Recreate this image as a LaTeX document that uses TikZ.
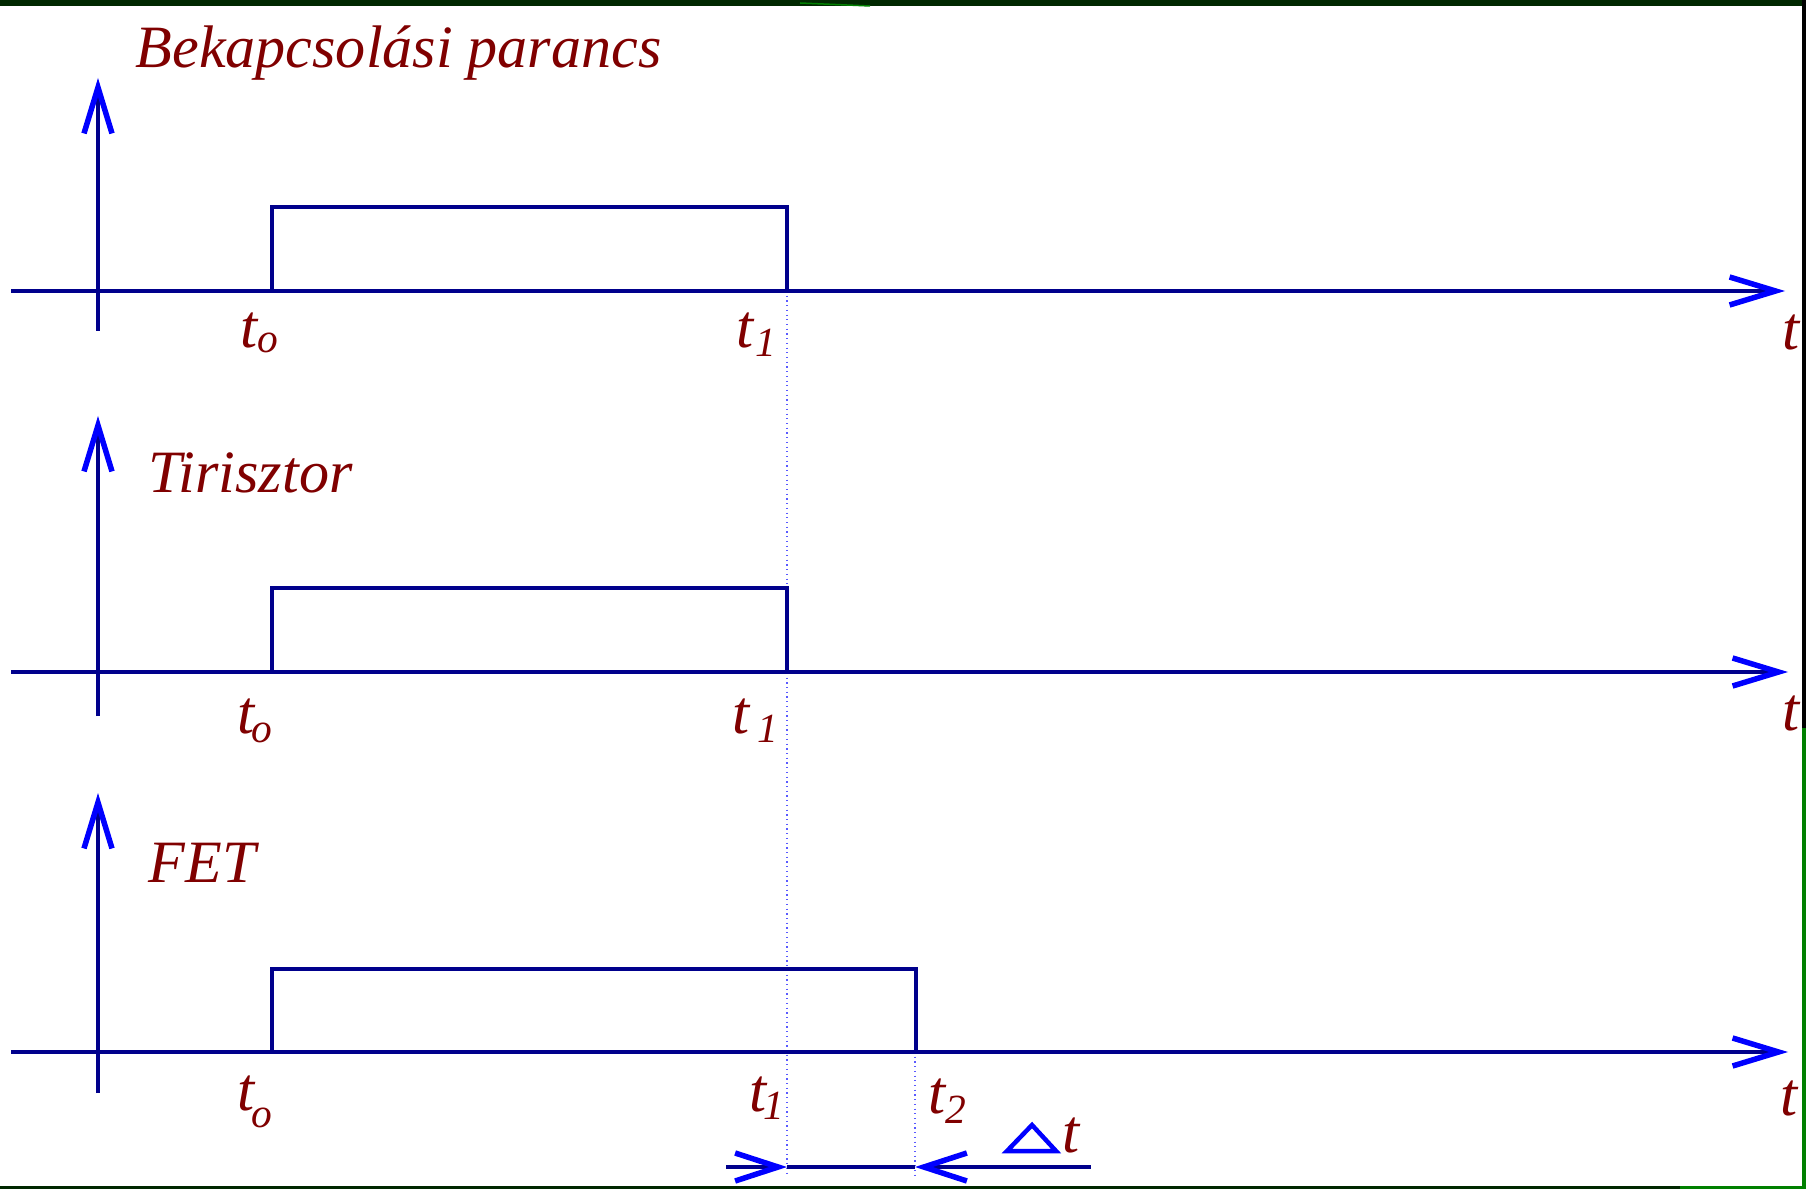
\documentclass[tikz,border=0pt]{standalone}
\usepackage{fontspec}
\setmainfont{Liberation Serif}
\usetikzlibrary{arrows.meta, positioning}
\definecolor{Navy}{HTML}{00008C}
\definecolor{TipBlue}{HTML}{0000FF}
\definecolor{Maroon}{HTML}{800000}
\definecolor{GuideBlue}{HTML}{5A5AFF}
\definecolor{FrameDark}{HTML}{002800}
\definecolor{FrameGreen}{HTML}{008000}
\newcommand{\subsz}{\fontsize{11.8pt}{13pt}\selectfont}
\newcommand{\tsub}[3]{t\kern#1\raisebox{-#2}{\subsz #3}}
\tikzset{
  axis/.style={line width=0.45mm, draw=Navy},
  axarr/.style={axis, -{Straight Barb[length=4.6mm, width=2.8mm,
    line width=0.55mm, line cap=butt, color=TipBlue]}},
  dimtip/.tip={Straight Barb[length=4.3mm, width=2.8mm,
    line width=0.55mm, line cap=butt, color=TipBlue]},
  pulse/.style={line width=0.45mm, draw=Navy},
  guide/.style={draw=GuideBlue, line width=0.12mm, densely dotted},
  title/.style={anchor=base west, inner sep=0pt, text=Maroon,
    font=\fontsize{17.1pt}{20pt}\selectfont\itshape},
  tlab/.style={anchor=base west, inner sep=0pt, text=Maroon,
    font=\fontsize{17.5pt}{20pt}\selectfont\itshape},
}

\begin{document}
\begin{tikzpicture}[x=0.1mm, y=-0.1mm]
  \useasboundingbox (0,0) rectangle (1806,1189);
  % frame
  \fill[FrameDark]  (0,0)       rectangle (1806,6);
  \draw[FrameGreen, line width=0.15mm] (800,3) -- (870,6);
  \fill[black]      (1802,0)    rectangle (1806,728);
  \fill[FrameGreen] (1802,728)  rectangle (1806,1189);
  \fill[FrameDark]  (0,1186)    rectangle (1680,1189);
  \fill[FrameGreen] (1680,1186) rectangle (1806,1189);

  % guide lines
  \coordinate (g1top) at (787,291);
  \coordinate (g1bot) at (787,1177);
  \coordinate (g2top) at (915,1052);
  \coordinate (g2bot) at (915,1177);
  \draw[guide] (g1top) -- (g1bot);
  \draw[guide] (g2top) -- (g2bot);

  % Bekapcsolasi parancs
  \draw[axarr] (11,291) -- (1785,291);
  \draw[axarr] (98,331) -- (98,78);
  \draw[pulse] (272,291) |- (787,207) -- (787,291);
  \node[title] (cmd) at (135,68)   {Bekapcsolási parancs};
  \node[tlab]  (t0a) at (240,348)  {\tsub{0pt}{0.5mm}{o}};
  \node[tlab]  (t1a) at (736,348)  {\tsub{0.2mm}{0.9mm}{1}};
  \node[tlab]  (ta)  at (1782,350) {t};

  % Tirisztor
  \draw[axarr] (11,672) -- (1788,672);
  \draw[axarr] (98,716) -- (98,416);
  \draw[pulse] (272,672) |- (787,588) -- (787,672);
  \node[title] (thy) at (148,493)  {Tirisztor};
  \node[tlab]  (t0b) at (237,733)  {\tsub{-0.3mm}{0.9mm}{o}};
  \node[tlab]  (t1b) at (732,733)  {\tsub{0.8mm}{0.9mm}{1}};
  \node[tlab]  (tb)  at (1782,730) {t};

  % FET
  \draw[axarr] (11,1052) -- (1788,1052);
  \draw[axarr] (98,1093) -- (98,793);
  \draw[pulse] (272,1052) |- (916,969) -- (916,1052);
  \node[title] (fet) at (148,882)   {FET};
  \node[tlab]  (t0c) at (237,1110)  {\tsub{-0.3mm}{1.7mm}{o}};
  \node[tlab]  (t1c) at (749,1111)  {\tsub{-0.3mm}{0.8mm}{1}};
  \node[tlab]  (t2c) at (928,1113)  {\tsub{0pt}{1mm}{2}};
  \node[tlab]  (tc)  at (1780,1115) {t};

  % delta t
  \coordinate (d0) at (726,1167);
  \coordinate (d1) at (g1top |- d0);
  \coordinate (d2) at (g2top |- d0);
  \coordinate (d3) at (1091,1167);
  \draw[axis, -{dimtip}] (d0) -- (d1);
  \draw[axis] (d1) -- (d2);
  \draw[axis, {dimtip}-] (d2) -- (d3);
  \draw[TipBlue, line width=0.45mm] (1007,1151) -- (1056,1151) -- (1032,1125) -- cycle;
  \node[tlab] (dt) at (1062,1152) {t};
\end{tikzpicture}
\end{document}
